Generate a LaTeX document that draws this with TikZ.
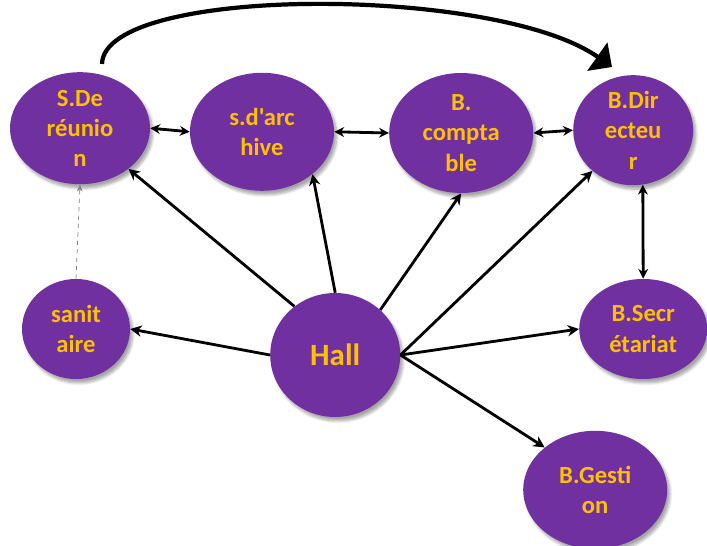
\documentclass[tikz,border=0pt]{standalone}
\usepackage{fontspec}
\setmainfont{Carlito}[Ligatures=TeXOff]
\usepackage{xcolor}
\usetikzlibrary{shapes.geometric, arrows.meta, positioning, calc, shadows.blur}
\definecolor{roompurple}{HTML}{7030A0}
\definecolor{roomgold}{HTML}{FFC000}

\begin{document}
\begin{tikzpicture}[
    room/.style={ellipse, fill=roompurple, inner sep=0pt, align=center,
      text=roomgold, font=\bfseries\fontsize{17.5}{21.5}\selectfont,
      blur shadow={shadow xshift=0.7mm, shadow yshift=-1mm, shadow blur steps=6, shadow opacity=35}},
    link/.style={-{Stealth[length=8pt,width=8pt]}, line width=2pt},
    twoway/.style={{Stealth[length=7pt,width=7pt]}-{Stealth[length=7pt,width=7pt]}, line width=2pt},
    faint/.style={-{Stealth[length=5pt,width=4pt]}, dashed, gray, line width=0.5pt}
]
\useasboundingbox (0,0) rectangle (17.675,13.625);

% upper row
\node[room, minimum width=3.5cm, minimum height=2.8cm] (reunion) at (2.0,10.42) {S.De\\réunio\\n};
\node[room, minimum width=3.6cm, minimum height=2.95cm] (archive) at (6.55,10.33) {s.d'arc\\hive};
\node[room, minimum width=3.6cm, minimum height=3.0cm] (comptable) at (11.53,10.3) {B.\\compta\\ble};
\node[room, minimum width=3.0cm, minimum height=2.75cm] (directeur) at (15.83,10.37) {B.Dir\\ecteu\\r};

% lower part
\node[room, minimum width=2.7cm, minimum height=2.5cm] (sanitaire) at (1.9,5.4) {sanit\\aire};
\node[room, minimum width=3.25cm, minimum height=3.1cm, font=\bfseries\fontsize{22}{26}\selectfont] (hall) at (8.38,4.75) {Hall};
\node[room, minimum width=3.2cm, minimum height=2.5cm] (secretariat) at (16.08,5.4) {B.Secr\\étariat};
\node[room, minimum width=3.6cm, minimum height=2.95cm] (gestion) at (14.88,1.38) {B.Gesti\\on};

% corridor between offices
\draw[twoway] (reunion.east) -- (archive.west);
\draw[twoway] (archive.east) -- (comptable.west);
\draw[twoway] (comptable.east) -- (directeur.west);
\draw[twoway] (directeur.-80) -- (secretariat.north);

% from the hall
\draw[link] (hall.130) -- (reunion.-40);
\draw[link] (hall.north) -- (archive.-40);
\draw[link] (hall.45) -- (comptable.south);
\draw[link] (hall.east) -- (directeur.-135);
\draw[link] (hall.west) -- (sanitaire.east);
\draw[link] (hall.east) -- (secretariat.west);
\draw[link] (hall.east) -- (gestion.140);

\draw[faint] (sanitaire.north) -- (reunion.south);

% long way round to the director
\coordinate (tip) at (15.3,11.95);
\draw[-{Triangle[length=0.45cm,width=0.85cm]}, line width=3pt]
  ($(reunion.north)+(0.55,0.2)$) .. controls (2.6,14.0) and (12.4,14.0) .. (tip);

\end{tikzpicture}
\end{document}
